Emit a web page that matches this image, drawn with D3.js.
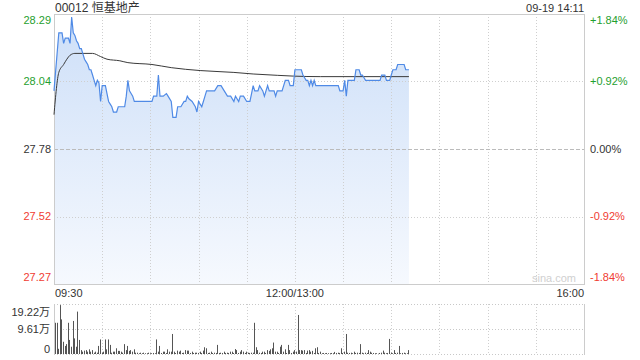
<!DOCTYPE html>
<html>
<head>
<meta charset="utf-8">
<script src="https://cdn.jsdelivr.net/npm/d3@7"></script>
<style>
    body { margin: 0; background: #fff; }
    svg text { font-family: "Liberation Sans", Arial, "Noto Sans CJK SC", sans-serif; }
</style>
</head>
<body>
<div id="chart"></div>
<script>
// stock info
var title = '00012 恒基地产';
var stamp = '09-19 14:11';
var prevClose = 27.78;
var maxPct = 0.0184;

// axis labels
var priceLabels = ['28.29', '28.04', '27.78', '27.52', '27.27'];
var pctLabels = ['+1.84%', '+0.92%', '0.00%', '-0.92%', '-1.84%'];
var pctSteps = [1, 0.5, 0, -0.5, -1];
var timeLabels = ['09:30', '12:00/13:00', '16:00'];
var timeMinutes = [0, 150, 330];
var volLabels = ['19.22万', '9.61万', '0'];
var volTicks = [19.22, 9.61, 0];

// price line, minute index -> last price
var priceMinutes = [0, 3, 5, 6, 7, 9, 10, 11, 12, 13, 14, 15, 16, 17, 18, 19, 20, 21, 22, 23,
    24, 25, 26, 27, 28, 29, 30, 32, 33, 34, 35, 36, 37, 39, 40, 42, 44, 45, 46, 47,
    48, 49, 50, 61, 62, 64, 65, 66, 68, 70, 71, 73, 74, 76, 77, 79, 81, 82, 83, 84,
    86, 88, 89, 90, 92, 93, 94, 95, 100, 102, 104, 106, 108, 110, 112, 113, 115, 116, 118, 120,
    122, 123, 124, 125, 127, 128, 130, 131, 133, 134, 137, 138, 139, 142, 144, 146, 147, 149, 150, 154,
    155, 156, 157, 158, 159, 160, 161, 162, 163, 177, 178, 180, 181, 182, 183, 187, 188, 190, 191, 192,
    194, 203, 204, 206, 207, 209, 210, 211, 213, 214, 218, 219, 221];
var priceValues = [28.00, 28.22, 28.22, 28.18, 28.20, 28.20, 28.18, 28.28, 28.22, 28.21, 28.19, 28.18, 28.16, 28.16, 28.14, 28.12, 28.11, 28.10, 28.08, 28.08,
    28.06, 28.04, 28.02, 28.04, 28.03, 27.96, 28.02, 28.02, 27.99, 27.96, 27.95, 27.94, 27.92, 27.92, 27.94, 27.94, 27.94, 27.98, 28.04, 28.00,
    27.99, 27.98, 27.96, 27.96, 27.98, 27.98, 28.06, 27.98, 27.98, 27.99, 27.98, 27.96, 27.90, 27.90, 27.94, 27.94, 27.96, 27.96, 27.98, 27.97,
    27.96, 27.94, 27.92, 27.96, 27.94, 27.96, 27.98, 28.00, 28.00, 28.02, 28.02, 28.00, 27.98, 27.98, 27.96, 27.98, 27.96, 27.98, 27.98, 27.96,
    27.96, 27.99, 28.02, 28.00, 28.00, 28.02, 28.00, 27.98, 28.02, 28.00, 28.00, 27.98, 28.00, 28.00, 28.04, 28.04, 28.02, 28.02, 28.08, 28.08,
    28.06, 28.05, 28.04, 28.04, 28.02, 28.04, 28.02, 28.04, 28.02, 28.02, 28.00, 28.00, 28.04, 27.98, 28.04, 28.04, 28.08, 28.08, 28.06, 28.06,
    28.04, 28.04, 28.06, 28.06, 28.04, 28.04, 28.06, 28.08, 28.08, 28.10, 28.10, 28.08, 28.08];

// average price line
var avgMinutes = [0, 3, 6, 8, 10, 13, 24, 29, 33, 41, 46, 61, 73, 91, 112, 124, 139, 149, 166, 221];
var avgValues = [27.91, 28.07, 28.10, 28.12, 28.135, 28.142, 28.142, 28.13, 28.12, 28.114, 28.107, 28.10, 28.088, 28.077, 28.07, 28.064, 28.059, 28.056, 28.054, 28.054];

// volume per minute (万股)
var volumes = [12.0, 12.0, 2.0, 18.8, 13.3, 4.7, 3.1, 3.8, 12.0, 5.4, 2.8, 12.7, 6.0, 2.8, 16.3, 5.4, 1.5, 0.9, 1.3, 1.5,
    0.9, 1.8, 0.9, 1.5, 0.5, 0.9, 0.5, 3.1, 5.6, 0.5, 0.9, 5.6, 1.8, 5.6, 3.5, 0.5, 0.9, 0.9, 2.2, 1.2,
    1.2, 0.9, 0.5, 3.8, 1.5, 3.1, 1.2, 1.5, 0.9, 1.8, 0.5, 0.5, 0.3, 0.5, 0.3, 0.5, 0.3, 0.3, 0.5, 0.3,
    0.3, 0.4, 0.3, 5.6, 0.9, 3.1, 0.4, 0.9, 0.9, 0.4, 1.8, 0.9, 0.9, 7.7, 0.9, 0.4, 1.3, 0.9, 1.3, 0.4,
    0.5, 1.5, 1.3, 1.3, 0.4, 0.9, 0.4, 0.5, 0.5, 0.4, 0.9, 0.4, 1.3, 2.6, 2.2, 0.4, 0.5, 0.9, 0.4, 0.5,
    0.4, 3.5, 0.4, 0.5, 0.4, 0.9, 0.4, 0.5, 0.4, 0.9, 0.9, 0.4, 1.9, 1.5, 0.4, 0.9, 1.5, 0.9, 0.4, 0.9,
    0.5, 0.4, 0.5, 0.5, 12.0, 2.6, 1.5, 0.5, 0.4, 0.9, 0.9, 0.4, 1.5, 1.2, 1.8, 2.2, 4.4, 0.9, 0.9, 0.4,
    2.8, 3.5, 0.9, 1.8, 0.4, 3.5, 1.5, 0.4, 0.9, 1.5, 0.9, 15.0, 1.5, 1.5, 1.3, 1.5, 0.4, 1.3, 1.5, 0.9,
    1.2, 0.4, 2.2, 2.6, 0.4, 0.9, 0.3, 0.4, 0.3, 0.4, 0.3, 0.3, 0.4, 0.3, 0.8, 0.4, 0.5, 0.4, 2.2, 0.4,
    0.9, 7.7, 0.5, 0.4, 0.5, 0.3, 0.9, 0.4, 0.5, 0.4, 3.8, 0.5, 0.3, 0.5, 0.4, 1.5, 0.9, 0.5, 0.4, 0.3,
    0.3, 0.1, 0.4, 0.5, 1.3, 0.5, 0.3, 0.4, 5.8, 0.5, 0.3, 1.5, 0.4, 0.5, 3.1, 0.3, 0.4, 0.5, 0.3, 0.3,
    1.5];

var W = 640, H = 360;
var box = {left: 54, right: 584, top: 14, bottom: 284};
var vbox = {top: 304, bottom: 354};
var green = '#1fa02f', red = '#f03c32', dark = '#333';

var svg = d3.select('#chart').append('svg')
    .attr('width', W)
    .attr('height', H);

var x = d3.scaleLinear().domain([0, 330]).range([box.left, box.right]);
var y = d3.scaleLinear()
    .domain([prevClose * (1 - maxPct), prevClose * (1 + maxPct)])
    .range([box.bottom, box.top]);
var yv = d3.scaleLinear().domain([0, volTicks[0]]).range([vbox.bottom, vbox.top]);

function labelColor(step) {
    return step > 0 ? green : (step < 0 ? red : dark);
}

// fill gradient
var grad = svg.append('defs').append('linearGradient')
    .attr('id', 'fillGrad')
    .attr('gradientUnits', 'userSpaceOnUse')
    .attr('x1', 0).attr('y1', box.top).attr('x2', 0).attr('y2', box.bottom);
grad.append('stop').attr('offset', 0).attr('stop-color', '#cddff8');
grad.append('stop').attr('offset', 1).attr('stop-color', '#f6f9fe');

var pricePts = priceMinutes.map(function (m, i) { return [m, priceValues[i]]; });
var avgPts = avgMinutes.map(function (m, i) { return [m, avgValues[i]]; });

svg.append('path')
    .datum(pricePts)
    .attr('fill', 'url(#fillGrad)')
    .attr('d', d3.area()
        .x(function (d) { return x(d[0]); })
        .y0(box.bottom)
        .y1(function (d) { return y(d[1]); }));

/////// GRID
var grid = svg.append('g').attr('class', 'grid');
d3.range(30, 330, 30).forEach(function (m) {
    var gx = Math.round(x(m)) + 0.5;
    grid.append('line')
        .attr('x1', gx).attr('x2', gx)
        .attr('y1', box.top).attr('y2', box.bottom)
        .attr('stroke', '#cfcfcf').attr('stroke-dasharray', '1,2');
    grid.append('line')
        .attr('x1', gx).attr('x2', gx)
        .attr('y1', vbox.top).attr('y2', vbox.bottom)
        .attr('stroke', '#cfcfcf').attr('stroke-dasharray', '1,2');
});
pctSteps.slice(1, 4).forEach(function (s) {
    var gy = Math.round(y(prevClose * (1 + s * maxPct))) + 0.5;
    grid.append('line')
        .attr('x1', box.left).attr('x2', box.right)
        .attr('y1', gy).attr('y2', gy)
        .attr('stroke', s === 0 ? '#bbb' : '#cfcfcf')
        .attr('stroke-dasharray', s === 0 ? '4,2' : '1,2');
});
[vbox.top, yv(volTicks[1]), vbox.bottom].forEach(function (v) {
    var gy = Math.round(v) + 0.5;
    grid.append('line')
        .attr('x1', box.left).attr('x2', box.right)
        .attr('y1', gy).attr('y2', gy)
        .attr('stroke', '#c8c8c8').attr('stroke-dasharray', '1,2');
});
//// END OF GRID

// frames
svg.append('rect')
    .attr('x', box.left + 0.5).attr('y', box.top + 0.5)
    .attr('width', box.right - box.left).attr('height', box.bottom - box.top)
    .attr('fill', 'none').attr('stroke', '#cccccc');
[box.left + 0.5, box.right + 0.5].forEach(function (bx) {
    svg.append('line')
        .attr('x1', bx).attr('x2', bx)
        .attr('y1', vbox.top).attr('y2', vbox.bottom + 1)
        .attr('stroke', '#cccccc');
});

// watermark
svg.append('text')
    .attr('x', 532).attr('y', 282)
    .attr('font-size', 11).attr('fill', '#d0d0d0')
    .text('sina.com');

// average line
svg.append('path')
    .datum(avgPts)
    .attr('fill', 'none')
    .attr('stroke', '#3a3a3a')
    .attr('stroke-width', 1)
    .attr('d', d3.line()
        .curve(d3.curveMonotoneX)
        .x(function (d) { return x(d[0]); })
        .y(function (d) { return y(d[1]); }));

// price line
svg.append('path')
    .datum(pricePts)
    .attr('fill', 'none')
    .attr('stroke', '#4f8ae6')
    .attr('stroke-width', 1.2)
    .attr('d', d3.line()
        .x(function (d) { return x(d[0]); })
        .y(function (d) { return y(d[1]); }));

// volume bars
svg.append('g').selectAll('line')
    .data(volumes)
    .enter()
    .append('line')
    .attr('x1', function (d, i) { return Math.round(x(i)) + 1.5; })
    .attr('x2', function (d, i) { return Math.round(x(i)) + 1.5; })
    .attr('y1', vbox.bottom)
    .attr('y2', function (d) { return yv(d); })
    .attr('stroke', '#555')
    .attr('stroke-width', 1);

// title
svg.append('text')
    .attr('x', 55).attr('y', 12)
    .attr('font-size', 12).attr('fill', dark)
    .text(title);
svg.append('text')
    .attr('x', box.right).attr('y', 12)
    .attr('font-size', 11).attr('fill', dark)
    .attr('text-anchor', 'end')
    .text(stamp);

// price & percent labels
var labelShift = [6, 0, 0, 0, -7];
pctSteps.forEach(function (s, i) {
    var ly = y(prevClose * (1 + s * maxPct)) + labelShift[i];
    svg.append('text')
        .attr('x', 51).attr('y', ly).attr('dy', '0.35em')
        .attr('text-anchor', 'end')
        .attr('font-size', 11).attr('fill', labelColor(s))
        .text(priceLabels[i]);
    svg.append('text')
        .attr('x', 590).attr('y', ly).attr('dy', '0.35em')
        .attr('font-size', 11).attr('fill', labelColor(s))
        .text(pctLabels[i]);
});

// time labels
var anchors = ['start', 'middle', 'end'];
timeMinutes.forEach(function (m, i) {
    svg.append('text')
        .attr('x', x(m) + (i === 0 ? 1 : 0)).attr('y', 297)
        .attr('text-anchor', anchors[i])
        .attr('font-size', 11).attr('fill', dark)
        .text(timeLabels[i]);
});

// volume labels
var volShift = [8, 0, -5];
volTicks.forEach(function (v, i) {
    svg.append('text')
        .attr('x', 50).attr('y', yv(v) + volShift[i]).attr('dy', '0.35em')
        .attr('text-anchor', 'end')
        .attr('font-size', 11).attr('fill', dark)
        .text(volLabels[i]);
});
</script>
</body>
</html>
